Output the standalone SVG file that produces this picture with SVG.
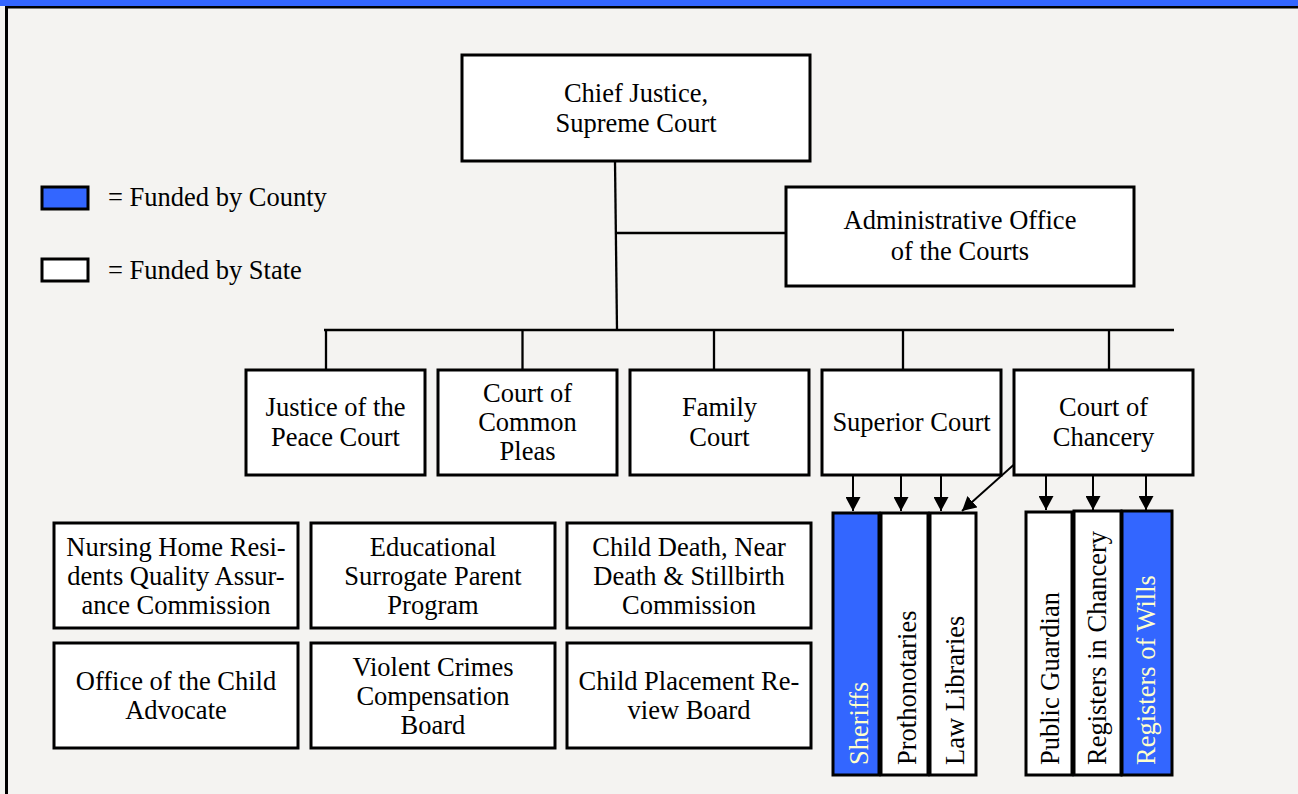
<svg xmlns="http://www.w3.org/2000/svg" width="1298" height="794" viewBox="0 0 1298 794">
  <defs>
    <style>
      .bg { fill: #f4f3f1; }
      .box { fill: #ffffff; stroke: #000000; stroke-width: 3; }
      .cbox { fill: #3366ff; stroke: #000000; stroke-width: 3; }
      .t { font-family: "Liberation Serif", "Times New Roman", serif; font-size: 26.5px; fill: #000000; text-anchor: middle; }
      .tv { font-family: "Liberation Serif", "Times New Roman", serif; font-size: 26.5px; fill: #000000; text-anchor: start; }
      .tvc { fill: #ffffcc; }
      .tl { font-family: "Liberation Serif", "Times New Roman", serif; font-size: 26.5px; fill: #000000; text-anchor: start; }
      .ln { fill: none; stroke: #000000; stroke-width: 2.3; }
      .ar { fill: none; stroke: #000000; stroke-width: 2; marker-end: url(#ah); }
    </style>
    <marker id="ah" markerUnits="userSpaceOnUse" markerWidth="15" markerHeight="15" refX="14" refY="7.5" orient="auto" viewBox="0 0 15 15">
      <path d="M0,0 L14,7.5 L0,15 Z" fill="#000000"/>
    </marker>
  </defs>

  <!-- page -->
  <rect class="bg" x="0" y="0" width="1298" height="794"/>
  <rect x="0" y="0" width="1298" height="6" fill="#3366ff"/>
  <rect x="5" y="6" width="1293" height="2.5" fill="#000000"/>
  <rect x="5" y="6" width="3" height="788" fill="#000000"/>

  <!-- legend -->
  <g id="legend">
    <rect class="cbox" x="42" y="187" width="46" height="22" stroke-width="2.5"/>
    <text class="tl" x="108" y="206">= Funded by County</text>
    <rect class="box" x="42" y="259" width="46" height="22" stroke-width="2.5"/>
    <text class="tl" x="108" y="279">= Funded by State</text>
  </g>

  <!-- connectors -->
  <g id="connectors">
    <path class="ln" d="M615,161 L617,330"/>
    <path class="ln" d="M616,233 L786,233"/>
    <path class="ln" d="M324,330 L1174,330"/>
    <path class="ln" d="M326,331 L326,370"/>
    <path class="ln" d="M522.5,331 L522.5,370"/>
    <path class="ln" d="M714,331 L714,370"/>
    <path class="ln" d="M903,331 L903,370"/>
    <path class="ln" d="M1109,331 L1109,370"/>
    <path class="ar" d="M853,476 L853,511"/>
    <path class="ar" d="M901,476 L901,511"/>
    <path class="ar" d="M941,476 L941,511"/>
    <path class="ar" d="M1018,461 L962,511"/>
    <path class="ar" d="M1046,476 L1046,510"/>
    <path class="ar" d="M1093,476 L1093,510"/>
    <path class="ar" d="M1146,476 L1146,510"/>
  </g>

  <!-- top -->
  <g id="chief-justice">
    <rect class="box" x="462" y="55" width="348" height="106"/>
    <text class="t" x="636" y="102">Chief Justice,</text>
    <text class="t" x="636" y="132">Supreme Court</text>
  </g>
  <g id="admin-office">
    <rect class="box" x="786" y="187" width="348" height="99"/>
    <text class="t" x="960" y="229">Administrative Office</text>
    <text class="t" x="960" y="260">of the Courts</text>
  </g>

  <!-- courts -->
  <g id="justice-peace">
    <rect class="box" x="246" y="370" width="179" height="105"/>
    <text class="t" x="335.5" y="416">Justice of the</text>
    <text class="t" x="335.5" y="446">Peace Court</text>
  </g>
  <g id="common-pleas">
    <rect class="box" x="438" y="370" width="179" height="105"/>
    <text class="t" x="527.5" y="402">Court of</text>
    <text class="t" x="527.5" y="431">Common</text>
    <text class="t" x="527.5" y="460">Pleas</text>
  </g>
  <g id="family-court">
    <rect class="box" x="630" y="370" width="179" height="105"/>
    <text class="t" x="719.5" y="416">Family</text>
    <text class="t" x="719.5" y="446">Court</text>
  </g>
  <g id="superior-court">
    <rect class="box" x="822" y="370" width="179" height="105"/>
    <text class="t" x="911.5" y="431">Superior Court</text>
  </g>
  <g id="chancery-court">
    <rect class="box" x="1014" y="370" width="179" height="105"/>
    <text class="t" x="1103.5" y="416">Court of</text>
    <text class="t" x="1103.5" y="446">Chancery</text>
  </g>

  <!-- vertical offices -->
  <g id="sheriffs">
    <rect class="cbox" x="833" y="513" width="46" height="262"/>
    <text class="tv tvc" transform="translate(868,765) rotate(-90)">Sheriffs</text>
  </g>
  <g id="prothonotaries">
    <rect class="box" x="881" y="513" width="47" height="262"/>
    <text class="tv" transform="translate(916,765) rotate(-90)">Prothonotaries</text>
  </g>
  <g id="law-libraries">
    <rect class="box" x="930" y="513" width="46" height="262"/>
    <text class="tv" transform="translate(964,765) rotate(-90)">Law Libraries</text>
  </g>
  <g id="public-guardian">
    <rect class="box" x="1026" y="512" width="46" height="263"/>
    <text class="tv" transform="translate(1059,765) rotate(-90)">Public Guardian</text>
  </g>
  <g id="registers-chancery">
    <rect class="box" x="1074" y="511" width="47" height="264"/>
    <text class="tv" transform="translate(1106,765) rotate(-90)">Registers in Chancery</text>
  </g>
  <g id="registers-wills">
    <rect class="cbox" x="1122" y="511" width="50" height="264"/>
    <text class="tv tvc" transform="translate(1155,765) rotate(-90)">Registers of Wills</text>
  </g>

  <!-- bottom-left boxes -->
  <g id="nursing-home">
    <rect class="box" x="54" y="523" width="244" height="105"/>
    <text class="t" x="176" y="556">Nursing Home Resi-</text>
    <text class="t" x="176" y="585">dents Quality Assur-</text>
    <text class="t" x="176" y="614">ance Commission</text>
  </g>
  <g id="educational-surrogate">
    <rect class="box" x="311" y="523" width="244" height="105"/>
    <text class="t" x="433" y="556">Educational</text>
    <text class="t" x="433" y="585">Surrogate Parent</text>
    <text class="t" x="433" y="614">Program</text>
  </g>
  <g id="child-death">
    <rect class="box" x="567" y="523" width="244" height="105"/>
    <text class="t" x="689" y="556">Child Death, Near</text>
    <text class="t" x="689" y="585">Death &amp; Stillbirth</text>
    <text class="t" x="689" y="614">Commission</text>
  </g>
  <g id="child-advocate">
    <rect class="box" x="54" y="643" width="244" height="105"/>
    <text class="t" x="176" y="690">Office of the Child</text>
    <text class="t" x="176" y="719">Advocate</text>
  </g>
  <g id="violent-crimes">
    <rect class="box" x="311" y="643" width="244" height="105"/>
    <text class="t" x="433" y="676">Violent Crimes</text>
    <text class="t" x="433" y="705">Compensation</text>
    <text class="t" x="433" y="734">Board</text>
  </g>
  <g id="child-placement">
    <rect class="box" x="567" y="643" width="244" height="105"/>
    <text class="t" x="689" y="690">Child Placement Re-</text>
    <text class="t" x="689" y="719">view Board</text>
  </g>
</svg>
